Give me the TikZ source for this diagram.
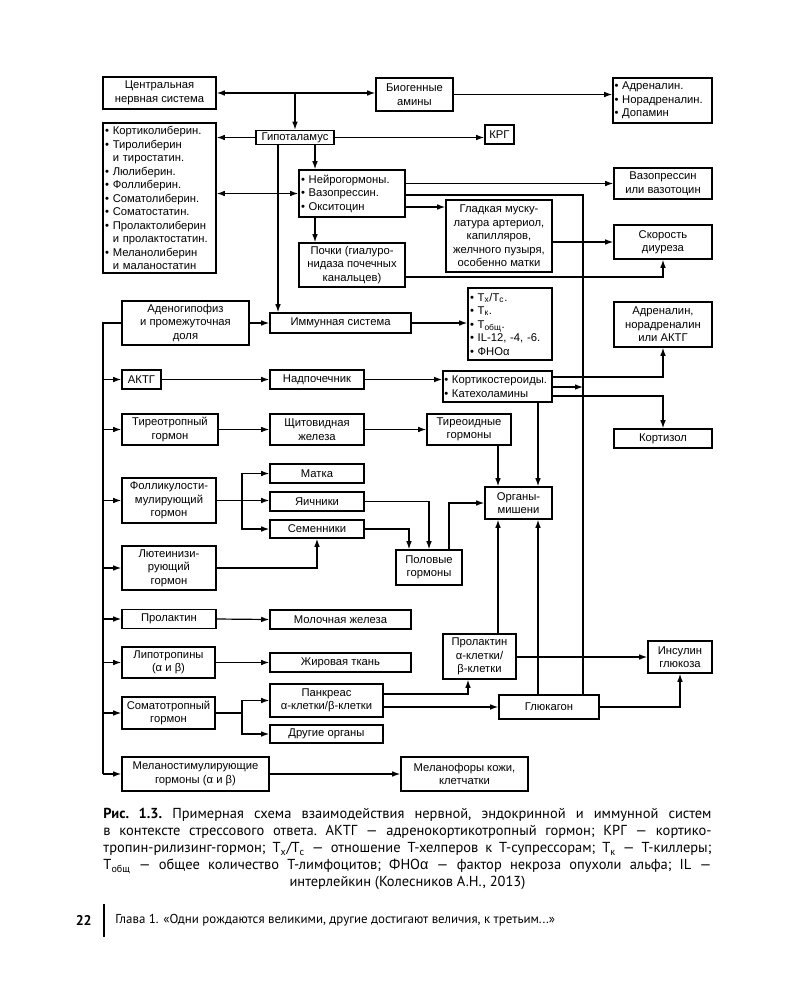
\documentclass[tikz,border=0pt]{standalone}
\usepackage{fontspec}
\setmainfont{Liberation Sans}
\newfontfamily\capfont{PT Sans}
\usetikzlibrary{arrows.meta}

\begin{document}
\begin{tikzpicture}[x=0.25mm, y=-0.25mm, line width=0.85pt,
  >={Latex[length=2mm,width=1.4mm]},
  box/.style={draw, line width=1.1pt, align=center, inner sep=1pt,
    font=\fontsize{8}{9.6}\selectfont},
  sz/.style 2 args={minimum width=#1*0.25mm, minimum height=#2*0.25mm},
  lst/.style={box, align=left, text width=#1}]
\fill[white] (0,0) rectangle (800,1000);
% верхняя часть
\node[box, sz={113}{32}] (cns) at (159.5,93) {Центральная\\нервная система};
\node[box, sz={77}{33}] (bio) at (414.5,94.5) {Биогенные\\амины};
\node[lst=24mm, sz={99}{45}] (adr) at (662.5,100.5) {• Адреналин.\\• Норадреналин.\\• Допамин};
\node[box, sz={78}{14}] (hyp) at (295,137.5) {Гипоталамус};
\node[box, sz={29}{19}] (krg) at (499.5,134.5) {КРГ};
\node[lst=27.2mm, sz={113}{150}] (lib) at (159.5,198) {• Кортиколиберин.\\• Тиролиберин\\\phantom{• }и тиростатин.\\• Люлиберин.\\• Фоллиберин.\\• Соматолиберин.\\• Соматостатин.\\• Пролактолиберин\\\phantom{• }и пролактостатин.\\• Меланолиберин\\\phantom{• }и маланостатин};
\node[lst=25.5mm, sz={106}{47}] (neuro) at (352,193.5) {• Нейрогормоны.\\• Вазопрессин.\\• Окситоцин};
\node[box, sz={106}{44}] (poch) at (352,265) {Почки (гиалуро-\\нидаза почечных\\канальцев)};
\node[box, sz={98}{31}] (vaz) at (663,183.5) {Вазопрессин\\или вазотоцин};
\node[box, sz={106}{72}] (glad) at (499,236) {Гладкая муску-\\латура артериол,\\капилляров,\\желчного пузыря,\\особенно матки};
\node[box, sz={98}{34}] (skor) at (663,242) {Скорость\\диуреза};
% средняя часть
\node[box, sz={127}{44}] (aden) at (185.5,323) {Аденогипофиз\\и промежуточная\\доля};
\node[box, sz={141}{20}] (imm) at (340.5,323) {Иммунная система};
\node[lst=20mm, sz={84}{72}] (tlist) at (510,324) {• T\textsubscript{x}/T\textsubscript{c}.\\• T\textsubscript{к}.\\• T\textsubscript{общ}.\\• IL-12, -4, -6.\\• ФНОα};
\node[box, sz={98}{45}] (adr2) at (663,324.5) {Адреналин,\\норадреналин\\или АКТГ};
\node[box, sz={39}{19}] (aktg) at (141.5,379.5) {АКТГ};
\node[box, sz={94}{19}] (nadp) at (317,379.5) {Надпочечник};
\node[lst=26.6mm, sz={109}{31}] (kort) at (497.5,386.5) {• Кортикостероиды.\\• Катехоламины};
\node[box, sz={98}{19}] (kortizol) at (663,438.5) {Кортизол};
\node[box, sz={96}{31}] (tirtrop) at (170,429.5) {Тиреотропный\\гормон};
\node[box, sz={94}{31}] (shchit) at (317,429.5) {Щитовидная\\железа};
\node[box, sz={84}{31}] (tir) at (469,429.5) {Тиреоидные\\гормоны};
\node[box, sz={67}{32}] (org) at (518.5,503) {Органы-\\мишени};
\node[box, sz={94}{45}] (fsh) at (169,500.5) {Фолликулости-\\мулирующий\\гормон};
\node[box, sz={94}{19}] (matka) at (317,473.5) {Матка};
\node[box, sz={94}{19}] (yaich) at (317,501.5) {Яичники};
\node[box, sz={94}{18}] (semen) at (317,529) {Семенники};
\node[box, sz={94}{44}] (lg) at (169,568) {Лютеинизи-\\рующий\\гормон};
\node[box, sz={66}{35}] (pol) at (429,567.5) {Половые\\гормоны};
% нижняя часть
\node[box, sz={94}{19}] (prol) at (169,619) {Пролактин};
\node[box, sz={141}{19}] (moloch) at (340.5,619.5) {Молочная железа};
\node[box, sz={93}{31}] (lip) at (168.5,662.5) {Липотропины\\(α и β)};
\node[box, sz={141}{19}] (zhir) at (340.5,662.5) {Жировая ткань};
\node[box, sz={73}{45}] (prola) at (479.5,656.5) {Пролактин\\α-клетки/\\β-клетки};
\node[box, sz={64}{32}] (ins) at (680,657) {Инсулин\\глюкоза};
\node[box, sz={93}{32}] (som) at (168.5,713) {Соматотропный\\гормон};
\node[box, sz={113}{33}] (pank) at (326.5,700.5) {Панкреас\\α-клетки/β-клетки};
\node[box, sz={113}{18}] (drug) at (326.5,734) {Другие органы};
\node[box, sz={100}{24}] (glu) at (549,707) {Глюкагон};
\node[box, sz={147}{34}] (mel) at (195.5,774) {Меланостимулирующие\\гормоны (α и β)};
\node[box, sz={127}{34}] (melf) at (464.5,774) {Меланофоры кожи,\\клетчатки};
% точки изломов
\coordinate (xa) at (278,0);
\coordinate (xb) at (315,0);
\coordinate (thk) at (583,195);
\coordinate (bt) at (103,323);
\coordinate (bb) at (103,774);
\coordinate (xf) at (242,0);
\coordinate (xo) at (498,0);
\coordinate (xk) at (538,0);
\coordinate (xs) at (409,0);
\coordinate (xp) at (449,0);
\coordinate (xr) at (468,0);
\coordinate (yn) at (0,207);
\coordinate (yp) at (0,277);
\coordinate (yk1) at (0,377);
\coordinate (yk2) at (0,387);
\coordinate (yk3) at (0,396);
\coordinate (yq) at (0,694);
% связи
\draw[<->] (cns.east) -- (cns.east -| bio.west);
\draw[->] (cns.east -| hyp.north) -- (hyp.north);
\draw[->] (bio.east) -- (bio.east -| adr.west);
\draw[->] (hyp.west) -- (hyp.west -| lib.east);
\draw[->] (hyp.east) -- (hyp.east -| krg.west);
\draw[->] (hyp.south -| xb) -- (neuro.north -| xb);
\draw[->] (hyp.south -| xa) -- (imm.north -| xa);
\draw[<->] (lib.east |- neuro.west) -- (neuro.west);
\draw[->] (neuro.south -| xb) -- (poch.north -| xb);
\draw[->] (neuro.east |- vaz.west) -- (vaz.west);
\draw[line width=2pt] (neuro.east |- thk) -- (thk) -- (glu.north -| thk);
\draw[->] (neuro.east |- yn) -- (glad.west |- yn);
\draw[->] (glad.east |- skor.west) -- (skor.west);
\draw[->] (poch.east |- yp) -| (skor.south);
\draw[->] (aden.east) -- (imm.west);
\draw[->] (imm.east) -- (imm.east -| tlist.west);
\draw (aden.west) -- (bt) -- (bb);
\foreach \n in {aktg,tirtrop,fsh,lg,prol,lip,som,mel}
  \draw[->] (bt |- \n.west) -- (\n.west);
\draw[->] (aktg.east) -- (nadp.west);
\draw[->] (nadp.east) -- (nadp.east -| kort.west);
\draw[->] (kort.east |- yk1) -| (adr2.south);
\draw[->] (kort.east |- yk2) -- (thk |- yk2);
\draw[->] (kort.east |- yk3) -| (kortizol.north);
\draw[->] (kort.south -| xk) -- (org.north -| xk);
\draw[->] (tir.south -| xo) -- (org.north -| xo);
\draw[->] (tirtrop.east) -- (shchit.west);
\draw[->] (shchit.east) -- (tir.west);
\draw[->] (fsh.east) -- (fsh.east -| yaich.west);
\draw[->] (xf |- fsh.east) |- (matka.west);
\draw[->] (xf |- fsh.east) |- (semen.west);
\draw[->] (lg.east) -| (semen.south);
\draw[->] (yaich.east) -| (pol.north);
\draw[->] (semen.east) -| (pol.north -| xs);
\draw[->] (pol.north -| xp) |- (org.west);
\draw[->] (prol.east) -- (moloch.west);
\draw[->] (lip.east) -- (zhir.west);
\draw (som.east) -- (xf |- som.east);
\draw[->] (xf |- som.east) |- (pank.west);
\draw[->] (xf |- som.east) |- (drug.west);
\draw[->] (mel.east) -- (melf.west);
\draw[->] (pank.east |- yq) -| (prola.south -| xr);
\draw[->] (pank.east |- glu.west) -- (glu.west);
\draw[->] (prola.east |- ins.west) -- (ins.west);
\draw[->] (glu.east) -| (ins.south);
\draw[->] (prola.north -| xo) -- (org.south -| xo);
\draw[->] (glu.north -| xk) -- (org.south -| xk);
% подпись
\node[font=\capfont\fontsize{10.3}{12.1}\selectfont, text width=152mm, align=justify,
  inner sep=0pt, anchor=north] (cap) at (407.5,808) {\sloppy\frenchspacing
  \textbf{Рис. 1.3.} Примерная схема взаимодействия нервной, эндокринной и иммунной систем\linebreak
  в контексте стрессового ответа. АКТГ — адренокортикотропный гормон; КРГ — кортико-\linebreak
  тропин-рилизинг-гормон; T\textsubscript{x}/T\textsubscript{c} — отношение Т-хелперов к Т-супрессорам; T\textsubscript{к} — Т-киллеры;\linebreak
  T\textsubscript{общ} — общее количество Т-лимфоцитов; ФНО{\rmfamily α} — фактор некроза опухоли альфа; IL —{\parfillskip=0pt\par}
  {\parfillskip=0pt\hspace*{\fill}интерлейкин (Колесников А.Н., 2013)\hspace*{\fill}\par}};
% колонтитул
\node[font=\capfont\bfseries\fontsize{10}{12}\selectfont, anchor=east] (pg) at (97,920) {22};
\draw[line width=1.3pt] (104,904) -- (104,937);
\node[font=\capfont\fontsize{9.2}{11}\selectfont, anchor=west] (chap) at (110,920)
  {Глава 1. «Одни рождаются великими, другие достигают величия, к третьим...»};
\end{tikzpicture}
\end{document}
